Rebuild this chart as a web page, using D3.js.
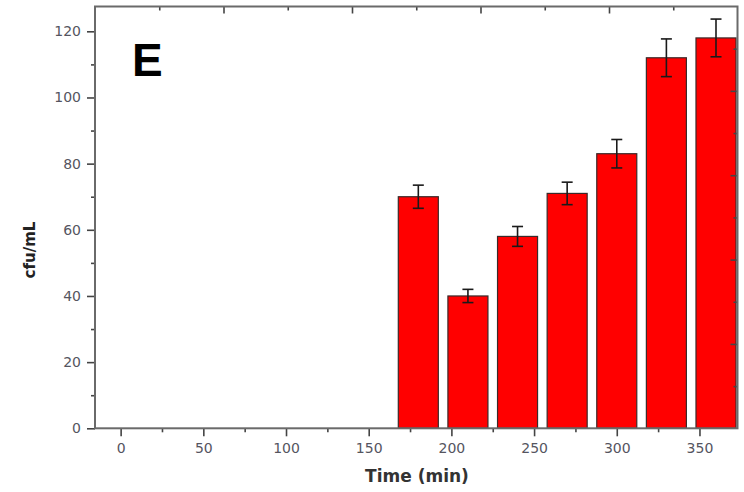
<!DOCTYPE html>
<html>
<head>
<meta charset="utf-8">
<script src="https://cdn.jsdelivr.net/npm/d3@7"></script>
<style>
  html, body { margin: 0; padding: 0; background: #fff; }
  svg { display: block; }
</style>
</head>
<body>
<svg id="chart" width="744" height="492"></svg>
<script>
// Colony counts over time (panel E)
const times = [180, 210, 240, 270, 300, 330, 360];
const counts = [70, 40, 58, 71, 83, 112, 118];
const errors = [3.5, 2, 3, 3.4, 4.3, 5.7, 5.7];
const xTicks = [0, 50, 100, 150, 200, 250, 300, 350];
const yTicks = [0, 20, 40, 60, 80, 100, 120];

const svg = d3.select("#chart");
const plotLeft = 95, plotRight = 737.5, plotTop = 6.5, plotBottom = 428.3;

const x = d3.scaleLinear().domain([-15.5, 373]).range([plotLeft, plotRight]);
const y = d3.scaleLinear().domain([0, 127.5]).range([plotBottom, plotTop]);
// mirror scales used only for the ticks on the top and right frame edges
const xTop = d3.scaleLinear().domain([0, 10]).range([plotLeft, plotRight]);
const yRight = d3.scaleLinear().domain([0, 10]).range([plotBottom, plotTop]);

const barW = 24.2; // bar width in minutes
const axisColor = "#6a6a6a";
const labelColor = "#55555f";

// bars
svg.append("g").selectAll("rect").data(times).join("rect")
  .attr("x", (d) => x(d - barW / 2))
  .attr("width", (d) => x(d + barW / 2) - x(d - barW / 2))
  .attr("y", (d, i) => y(counts[i]))
  .attr("height", (d, i) => y(0) - y(counts[i]))
  .attr("fill", "#ff0000")
  .attr("stroke", "#3a2a2a")
  .attr("stroke-width", 1.2);

// error bars
const eg = svg.append("g").attr("stroke", "#1a1a1a").attr("stroke-width", 1.6);
times.forEach((t, i) => {
  const cx = x(t);
  const hi = y(counts[i] + errors[i]);
  const lo = y(counts[i] - errors[i]);
  eg.append("line").attr("x1", cx).attr("x2", cx).attr("y1", hi).attr("y2", lo);
  eg.append("line").attr("x1", cx - 5.5).attr("x2", cx + 5.5).attr("y1", hi).attr("y2", hi);
  eg.append("line").attr("x1", cx - 5.5).attr("x2", cx + 5.5).attr("y1", lo).attr("y2", lo);
});

function styleAxis(g) {
  g.select(".domain").remove();
  g.selectAll(".tick line").attr("stroke", "#444").attr("stroke-width", 1.6);
  g.selectAll(".tick text")
    .attr("fill", labelColor)
    .attr("font-family", "DejaVu Sans, Verdana, sans-serif")
    .attr("font-size", 14);
}

// bottom axis: major + minor ticks
svg.append("g").attr("transform", `translate(0,${plotBottom})`)
  .call(d3.axisBottom(x).tickValues(xTicks).tickSize(8).tickPadding(7).tickFormat(d3.format("d")))
  .call(styleAxis);
svg.append("g").attr("transform", `translate(0,${plotBottom})`)
  .call(d3.axisBottom(x).tickValues(xTicks.slice(0, -1).map((d) => d + 25)).tickSize(4).tickFormat(""))
  .call(styleAxis);

// left axis: major + minor ticks
svg.append("g").attr("transform", `translate(${plotLeft},0)`)
  .call(d3.axisLeft(y).tickValues(yTicks).tickSize(8).tickPadding(6).tickFormat(d3.format("d")))
  .call(styleAxis);
svg.append("g").attr("transform", `translate(${plotLeft},0)`)
  .call(d3.axisLeft(y).tickValues(yTicks.map((d) => d + 10)).tickSize(4).tickFormat(""))
  .call(styleAxis);

// top and right mirror ticks pointing inward
const mirrorMajor = [2, 4, 6, 8];
const mirrorMinor = [1, 3, 5, 7, 9];
svg.append("g").attr("transform", `translate(0,${plotTop})`)
  .call(d3.axisBottom(xTop).tickValues(mirrorMajor).tickSize(7).tickFormat(""))
  .call(styleAxis);
svg.append("g").attr("transform", `translate(0,${plotTop})`)
  .call(d3.axisBottom(xTop).tickValues(mirrorMinor).tickSize(4).tickFormat(""))
  .call(styleAxis);
svg.append("g").attr("transform", `translate(${plotRight},0)`)
  .call(d3.axisLeft(yRight).tickValues(mirrorMajor).tickSize(7).tickFormat(""))
  .call(styleAxis);
svg.append("g").attr("transform", `translate(${plotRight},0)`)
  .call(d3.axisLeft(yRight).tickValues(mirrorMinor).tickSize(4).tickFormat(""))
  .call(styleAxis);

// frame
svg.append("rect")
  .attr("x", plotLeft).attr("y", plotTop)
  .attr("width", plotRight - plotLeft).attr("height", plotBottom - plotTop)
  .attr("fill", "none").attr("stroke", axisColor).attr("stroke-width", 2);

// panel letter
svg.append("text")
  .attr("x", 132).attr("y", 76)
  .attr("font-family", "Liberation Sans, Arial, sans-serif")
  .attr("font-weight", "bold").attr("font-size", 46)
  .attr("fill", "#000").text("E");

// axis titles
svg.append("text")
  .attr("x", 417).attr("y", 482)
  .attr("text-anchor", "middle")
  .attr("font-family", "DejaVu Sans, Verdana, sans-serif")
  .attr("font-weight", "bold").attr("font-size", 17)
  .attr("fill", "#333").text("Time (min)");

svg.append("text")
  .attr("transform", "translate(35,250) rotate(-90)")
  .attr("text-anchor", "middle")
  .attr("font-family", "DejaVu Sans, Verdana, sans-serif")
  .attr("font-weight", "bold").attr("font-size", 15)
  .attr("fill", "#222").text("cfu/mL");
</script>
</body>
</html>
